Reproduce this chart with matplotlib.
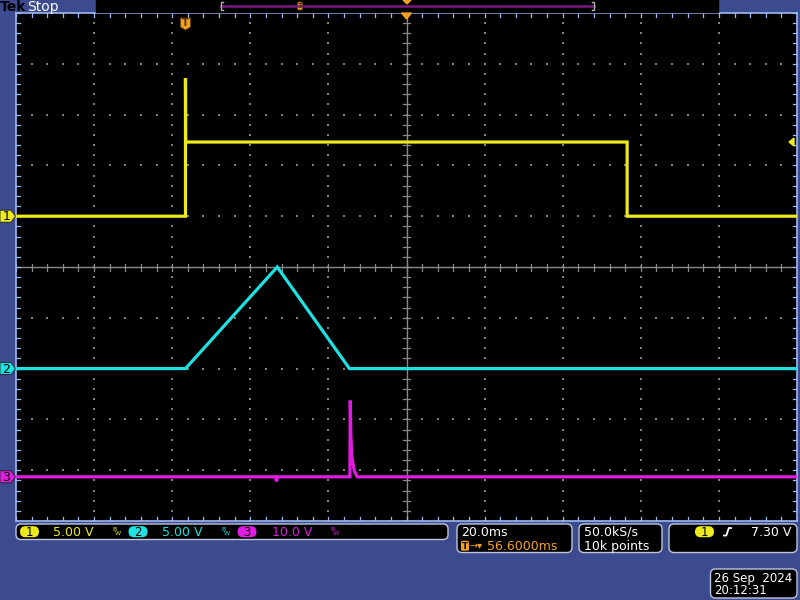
import numpy as np
import matplotlib
matplotlib.use('Agg')
import matplotlib.pyplot as plt
from matplotlib.patches import Rectangle, FancyBboxPatch, Polygon

plt.rcParams['font.family'] = ['DejaVu Sans']

# --- scope settings / data (time in ms, trigger at t = 0) ---
T_DIV = 20.0          # ms/div
T_CENTER = 56.6       # ms at screen centre
ch_scale = [5.0, 5.0, 10.0]        # V/div
ch_offset = [1.0, -2.0, -4.13]     # ground position, div
trig_level = 7.30

ch1_t = [-43.4, 0.0, 0.0, 0.05, 113.1, 113.1, 156.6]
ch1_v = [0.0, 0.0, 13.6, 7.3, 7.3, 0.0, 0.0]
ch2_t = [-43.4, 0.0, 23.5, 42.0, 156.6]
ch2_v = [0.0, 0.0, 10.0, 0.0, 0.0]
ch3_t = [-43.4, 23.0, 23.3, 23.6, 42.1, 42.2, 42.35, 42.6, 43.2, 44.0, 156.6]
ch3_v = [0.0, 0.0, -0.9, 0.0, 0.0, 15.0, 8.5, 4.0, 1.2, 0.0, 0.0]

ch_colors = ['#ECEA1C', '#1CE2E2', '#E01CE0']
BG = '#3C4A8E'
FRAME = '#9DB9F2'
ORANGE = '#F2A024'
FS = 9

fig = plt.figure(figsize=(8, 6), dpi=100, facecolor=BG)
ax = fig.add_axes([16 / 800, 79 / 600, 781 / 800, 508 / 600])
ax.set_facecolor('black')
ax.set_xlim(-5, 5)
ax.set_ylim(-5, 5)
ax.set_xticks([])
ax.set_yticks([])
for s in ax.spines.values():
    s.set_color(FRAME)
    s.set_linewidth(1.2)

PX_X = 781 / 10
PX_Y = 508 / 10

# graticule: dotted division lines
fine = np.arange(-5, 5.01, 0.2)
for k in range(-4, 5):
    if k == 0:
        continue
    ax.scatter(np.full_like(fine, k), fine, s=2.0, marker='s', color='#808080', lw=0, zorder=1)
    ax.scatter(fine, np.full_like(fine, k), s=2.0, marker='s', color='#808080', lw=0, zorder=1)

# centre crosshair with ticks
ax.axhline(0, color='#8a8a8a', lw=1, zorder=1)
ax.axvline(0, color='#8a8a8a', lw=1, zorder=1)
tx = 3.5 / PX_X
ty = 3.5 / PX_Y
for f in fine:
    ax.plot([f, f], [-ty, ty], color='#8a8a8a', lw=0.9, zorder=1)
    ax.plot([-tx, tx], [f, f], color='#8a8a8a', lw=0.9, zorder=1)
    # edge ticks
    ax.plot([f, f], [5, 5 - 4 / PX_Y], color=FRAME, lw=0.9, zorder=1)
    ax.plot([f, f], [-5, -5 + 4 / PX_Y], color=FRAME, lw=0.9, zorder=1)
    ax.plot([-5, -5 + 4 / PX_X], [f, f], color=FRAME, lw=0.9, zorder=1)
    ax.plot([5, 5 - 4 / PX_X], [f, f], color=FRAME, lw=0.9, zorder=1)

# traces
for t, v, i in [(ch1_t, ch1_v, 0), (ch2_t, ch2_v, 1), (ch3_t, ch3_v, 2)]:
    x = (np.array(t) - T_CENTER) / T_DIV
    y = ch_offset[i] + np.array(v) / ch_scale[i]
    ax.plot(x, y, color=ch_colors[i], lw=2.3, zorder=3, solid_joinstyle='miter')

# --- overlay in pixel coordinates for the scope UI ---
ov = fig.add_axes([0, 0, 1, 1], zorder=5)
ov.set_xlim(0, 800)
ov.set_ylim(600, 0)
ov.axis('off')
ov.patch.set_visible(False)


def to_px(xd, yd):
    p = ax.transData.transform((xd, yd))
    return ov.transData.inverted().transform(p)


# header
ov.text(0, 7, 'Tek', color='black', fontsize=10, fontweight='bold', va='center', ha='left')
ov.text(27, 7, 'Stop', color='white', fontsize=10, va='center', ha='left')
ov.add_patch(Rectangle((96, 0), 622, 11.5, color='black', zorder=1))
ov.plot([221, 594], [5.5, 5.5], color='#7a1a7c', lw=1.8)
for bx, d in [(221, 1), (594, -1)]:
    ov.plot([bx + 2 * d, bx, bx, bx + 2 * d], [1.5, 1.5, 10, 10], color='#b0b0b0', lw=1)
ov.add_patch(FancyBboxPatch((297.5, 2), 5, 8, boxstyle='round,pad=0,rounding_size=1.5',
                            fc=ORANGE, ec='#6a4000', lw=0.5))
ov.text(300, 6.3, 'T', color='#5a3000', fontsize=5, ha='center', va='center', fontweight='bold')
ov.add_patch(Polygon([(403, 0), (411, 0), (407, 4)], color=ORANGE))

# trigger position marker and horizontal position marker
trx, _ = to_px((0 - T_CENTER) / T_DIV, 0)
ov.add_patch(Polygon([(trx - 5, 18), (trx + 5, 18), (trx + 5, 27), (trx, 30), (trx - 5, 27)],
                     fc=ORANGE, ec='#6a4000', lw=0.6))
ov.text(trx, 23, 'T', color='#5a3000', fontsize=7, ha='center', va='center', fontweight='bold')
cx, _ = to_px(0, 0)
ov.add_patch(Polygon([(cx - 5, 13), (cx + 5, 13), (cx, 19)], color=ORANGE))

# trigger level arrow on right
_, tly = to_px(0, ch_offset[0] + trig_level / ch_scale[0])
ov.add_patch(Polygon([(789, tly), (794, tly - 4), (794, tly + 4)], color=ch_colors[0]))

# channel ground tags
for i in range(3):
    _, gy = to_px(0, ch_offset[i])
    ov.add_patch(Polygon([(0, gy - 6), (11, gy - 6), (15.5, gy), (11, gy + 6), (0, gy + 6)],
                         fc=ch_colors[i], ec='#202020', lw=0.6))
    ov.text(6.5, gy + 0.5, str(i + 1), color='black', fontsize=9, ha='center', va='center')


def box(x0, y0, x1, y1):
    ov.add_patch(FancyBboxPatch((x0, y0), x1 - x0, y1 - y0,
                                boxstyle='round,pad=0,rounding_size=5',
                                fc='black', ec='#c0c6dc', lw=1))


def chip(xc, yc, label, color):
    ov.add_patch(FancyBboxPatch((xc - 9.5, yc - 5.5), 19, 11,
                                boxstyle='round,pad=0,rounding_size=5.5',
                                fc=color, ec='none'))
    ov.text(xc, yc + 0.5, label, color='black', fontsize=8.5, ha='center', va='center')


def bw(x, y, color):
    ov.text(x, y - 2, 'B', color=color, fontsize=4.5, ha='left', va='center')
    ov.text(x + 3, y + 1.5, 'W', color=color, fontsize=4.5, ha='left', va='center')


row1 = 531.7
row2 = 545.7
box(16, 524, 448, 539.5)
vlabels = ['5.00 V', '5.00 V', '10.0 V']
chip_x = [29.5, 138, 247]
text_x = [53, 162, 272]
bw_x = [112, 221, 330]
for i in range(3):
    chip(chip_x[i], row1, str(i + 1), ch_colors[i])
    ov.text(text_x[i], row1 + 0.5, vlabels[i], color=ch_colors[i], fontsize=FS, ha='left', va='center')
    bw(bw_x[i], row1, ch_colors[i])

box(457, 524, 572, 552.5)
ov.text(461.5, row1 + 0.5, '20.0ms', color='white', fontsize=FS, ha='left', va='center')
ov.add_patch(FancyBboxPatch((461, row2 - 5), 8, 10, boxstyle='round,pad=0,rounding_size=1.5',
                            fc=ORANGE, ec='none'))
ov.text(465, row2 + 0.5, 'T', color='black', fontsize=6.5, ha='center', va='center', fontweight='bold')
ov.text(469.5, row2 + 0.5, '→▾', color=ORANGE, fontsize=7, ha='left', va='center')
ov.text(487.5, row2 + 0.5, '56.6000ms', color=ORANGE, fontsize=FS, ha='left', va='center')

box(579, 524, 662, 552.5)
ov.text(584, row1 + 0.5, '50.0kS/s', color='white', fontsize=FS, ha='left', va='center')
ov.text(584, row2 + 0.5, '10k points', color='white', fontsize=FS, ha='left', va='center')

box(669, 524, 797, 552.5)
chip(704.5, row1, '1', ch_colors[0])
ov.plot([724, 726.3, 728.8, 731], [535.5, 535.5, 528, 528], color='white', lw=1.3)
ov.text(791, row1 + 0.5, '7.30 V', color='white', fontsize=FS, ha='right', va='center')

box(710.5, 569, 797, 598)
ov.text(714.5, 578.5, '26 Sep  2024', color='white', fontsize=8.5, ha='left', va='center')
ov.text(714.5, 590.5, '20:12:31', color='white', fontsize=8.5, ha='left', va='center')

fig.savefig('out.png', dpi=100, facecolor=BG)
